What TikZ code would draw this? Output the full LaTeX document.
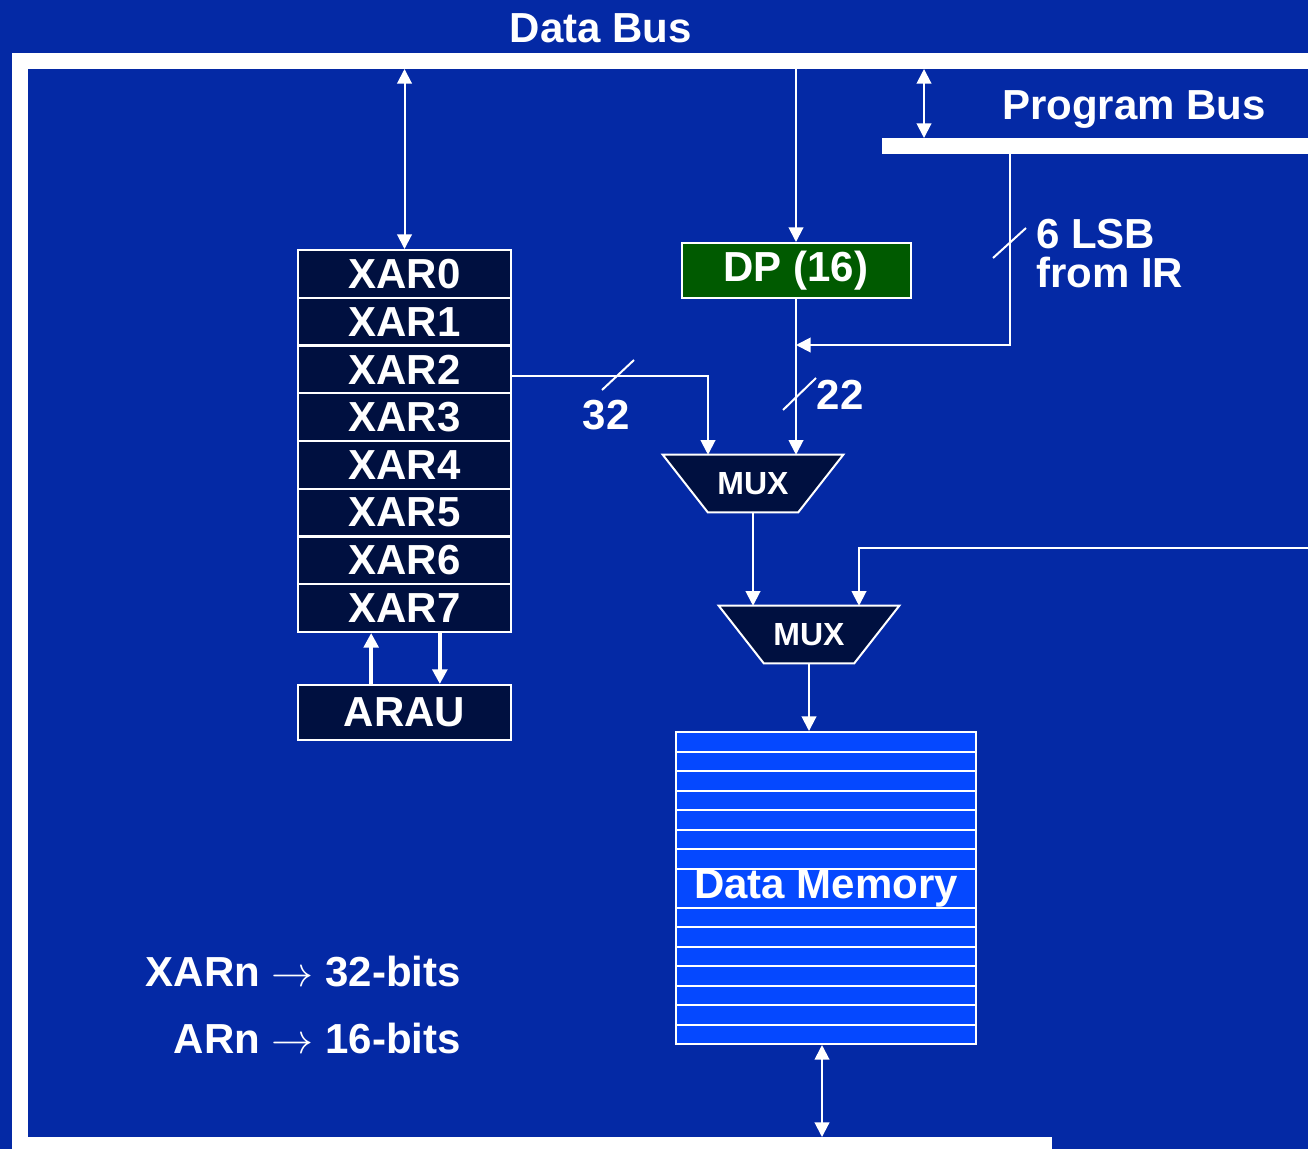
\documentclass[tikz,border=0pt]{standalone}
\usepackage{fix-cm}
\usepackage{fontspec}
\setmainfont{Liberation Sans}
\usetikzlibrary{arrows.meta,backgrounds}

\definecolor{slideblue}{RGB}{4,41,165}
\definecolor{regnavy}{RGB}{0,16,64}
\definecolor{dpgreen}{RGB}{0,90,0}
\definecolor{memblue}{RGB}{5,72,255}

\tikzset{
  lbl/.style={text=white,inner sep=0pt,font=\bfseries\fontsize{31.5}{29.25}\selectfont},
  reg/.style={lbl,draw=white,line width=1.5pt,fill=regnavy,minimum width=159.75pt,minimum height=35.8pt},
  mux/.style={minimum width=135pt,minimum height=42.75pt,inner sep=0pt,
    text=white,font=\bfseries\fontsize{24}{26}\selectfont},
  muxbody/.style={draw=white,line width=1.5pt,fill=regnavy},
  bus/.style={white,line width=12pt},
  tick/.style={white,line width=1.5pt},
  conn/.style={white,line width=1.5pt,-{Triangle[length=11pt,width=11pt]}},
  both/.style={conn,{Triangle[length=11pt,width=11pt]}-{Triangle[length=11pt,width=11pt]}},
  fat/.style={conn,line width=3pt},
}

\begin{document}
\begin{tikzpicture}[x=0.75pt,y=0.75pt,yscale=-1,xscale=1]
%background, sets the page size too
\begin{scope}[on background layer]
\fill[slideblue] (0,0) rectangle (1308,1149);
\end{scope}
\useasboundingbox (0,0) rectangle (1308,1149);

%Buses
\draw[bus] (1052,1145) -| (20,61) -- (1308,61);
\draw[bus] (882,146) -- (1308,146);

%taps on the buses
\coordinate (dbxar) at (404.5,69);
\coordinate (dbdp) at (796,69);
\coordinate (dbpb) at (924,69);
\coordinate (pbdb) at (924,138);
\coordinate (pbir) at (1010,154);
\coordinate (dbmem) at (822,1137);
\coordinate (ext) at (1308,548);

% Text Node
\node[lbl] (dbus) at (601,28) {Data Bus};
% Text Node
\node[lbl] (pbus) at (1134,110) {Program Bus};

%register file and ARAU
\foreach \i in {0,...,7}
  \node[reg] (xar\i) at (404.5,{250+47.75*(\i+0.5)}) {XAR\i};
\node[reg,minimum height=41.25pt] (arau) at (404.5,712.5) {ARAU};

%data page pointer
\node[reg,fill=dpgreen,minimum width=171.75pt,minimum height=41.25pt] (dp) at (796,270.5) {DP (16)};

%multiplexers, trapezoid drawn behind the label
\node[mux] (mux1) at (753,483.5) {MUX};
\node[mux] (mux2) at (809,634.5) {MUX};
\begin{scope}[on background layer]
\foreach \m in {mux1,mux2}
  \draw[muxbody] (\m.north west) -- (\m.north east) -- ([xshift=-33.75pt]\m.south east)
    -- ([xshift=33.75pt]\m.south west) -- cycle;
\end{scope}

%data memory, one gap left for the label
\node[lbl,draw=white,line width=1.5pt,fill=memblue,minimum width=225pt,minimum height=234pt] (mem) at (826,888) {Data Memory};
\foreach \k in {1,...,7,9,10,...,15}
  \draw[tick] (676,{732+19.5*\k}) -- (976,{732+19.5*\k});

%Connectors
\draw[both] (dbxar) -- (xar0.north);
\draw[conn] (dbdp) -- (dp.north);
\draw[both] (dbpb) -- (pbdb);
\draw[conn] (pbir) |- ([yshift=34.5pt]dp.south);
\draw[conn] (dp.south) -- (dp.south |- mux1.north);
\draw[conn] ([yshift=5pt]xar2.east) -| ([xshift=-33.75pt]mux1.north);
\draw[conn] (mux1.south) -- (mux1.south |- mux2.north);
\draw[conn] (ext) -| ([xshift=37.5pt]mux2.north);
\draw[conn] (mux2.south) -- (mux2.south |- mem.north);
\draw[both] (mem.south -| dbmem) -- (dbmem);
\draw[fat] ([xshift=-25pt]arau.north) -- ([xshift=-25pt]xar7.south);
\draw[fat] ([xshift=26.5pt]xar7.south) -- ([xshift=26.5pt]arau.north);

%bus width ticks
\draw[tick] (993,258) -- (1026,228);
\draw[tick] (783,410) -- (816,378);
\draw[tick] (602,390) -- (634,360);

% Text Node
\node[lbl,align=left,anchor=north west] (lsb) at (1036,219) {6 LSB\\from IR};
% Text Node
\node[lbl] (w22) at (840,395) {22};
% Text Node
\node[lbl] (w32) at (606,415) {32};
% Text Node
\node[lbl,anchor=east] (xarn) at (461,972) {XARn $\rightarrow$ 32-bits};
% Text Node
\node[lbl,anchor=east] (arn) at (461,1038) {ARn $\rightarrow$ 16-bits};

\end{tikzpicture}
\end{document}
